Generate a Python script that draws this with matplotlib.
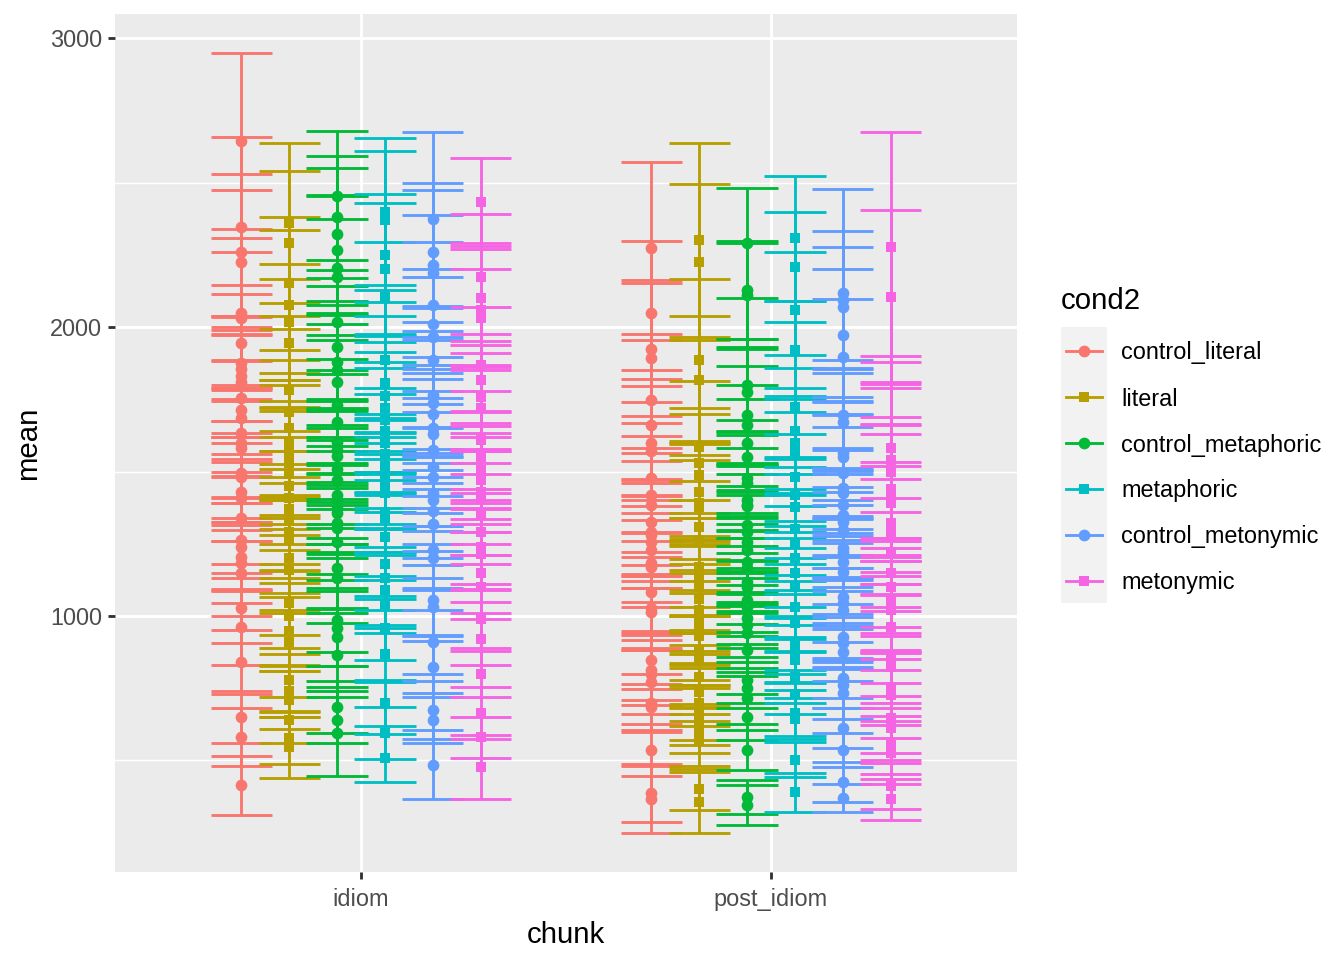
import matplotlib

matplotlib.use("Agg")
import matplotlib.pyplot as plt  # noqa: E402
import numpy as np  # noqa: E402
from matplotlib.lines import Line2D  # noqa: E402
from matplotlib.patches import Rectangle  # noqa: E402

plt.rcParams["font.family"] = ["Liberation Sans", "DejaVu Sans"]

CHUNKS = ["idiom", "post_idiom"]
CONDS = ["control_literal", "literal", "control_metaphoric",
         "metaphoric", "control_metonymic", "metonymic"]
COLORS = ["#F8766D", "#B79F00", "#00BA38", "#00BFC4", "#619CFF", "#F564E3"]
MARKERS = ["o", "s", "o", "s", "o", "s"]

# per-item means and error half-widths
idiom_control_literal = [2644, 2347, 2261, 2226, 2048, 2030, 1945, 1875, 1855, 1830, 1811,
                         1754, 1713, 1685, 1633, 1599, 1581, 1495, 1480, 1430, 1410, 1339,
                         1263, 1240, 1205, 1185, 1149, 1028, 962, 841, 651, 581, 415]
idiom_control_literal_err = [305, 310, 270, 250, 260, 230, 200, 240, 180, 210, 190,
                             220, 170, 200, 150, 190, 170, 180, 140, 170, 150, 160,
                             130, 150, 120, 140, 150, 120, 130, 110, 90, 100, 102]

idiom_literal = [2360, 2290, 2152, 2076, 2017, 1945, 1782, 1706, 1652, 1600, 1575,
                 1560, 1530, 1490, 1450, 1410, 1370, 1330, 1290, 1263, 1200, 1160,
                 1045, 1000, 947, 910, 780, 740, 710, 640, 578, 545]
idiom_literal_err = [278, 250, 230, 260, 200, 220, 210, 180, 190, 200, 170,
                     160, 180, 150, 170, 160, 140, 150, 130, 150, 120, 140,
                     110, 130, 120, 100, 110, 90, 100, 80, 90, 104]

idiom_control_metaphoric = [2455, 2381, 2322, 2266, 2204, 2173, 2017, 1931, 1879, 1851, 1810,
                            1730, 1670, 1602, 1574, 1555, 1510, 1470, 1420, 1400, 1373, 1355,
                            1322, 1305, 1256, 1166, 1131, 986, 958, 927, 865, 685, 640, 595]
idiom_control_metaphoric_err = [224, 210, 230, 190, 250, 200, 180, 210, 170, 190, 200,
                                160, 180, 150, 170, 160, 140, 150, 170, 130, 150, 140,
                                120, 160, 130, 140, 120, 110, 130, 100, 110, 90, 80, 147]

idiom_metaphoric = [2400, 2370, 2250, 2200, 2104, 1886, 1806, 1760, 1720, 1680, 1640,
                    1600, 1560, 1520, 1470, 1505, 1450, 1425, 1360, 1340, 1275, 1180,
                    1130, 1090, 1040, 958, 870, 700, 595, 510]
idiom_metaphoric_err = [255, 240, 210, 230, 190, 200, 170, 190, 160, 180, 150,
                        170, 140, 160, 150, 130, 150, 120, 140, 130, 150, 120,
                        110, 130, 100, 110, 100, 80, 90, 83]

idiom_control_metonymic = [2374, 2259, 2215, 2187, 2076, 2010, 1965, 1886, 1765, 1737, 1700,
                           1650, 1630, 1574, 1515, 1480, 1425, 1400, 1365, 1320, 1228, 1200,
                           1055, 1032, 910, 823, 675, 640, 485]
idiom_control_metonymic_err = [302, 240, 260, 200, 220, 190, 210, 180, 200, 160, 170,
                               190, 150, 160, 140, 170, 130, 150, 140, 120, 130, 110,
                               120, 100, 110, 90, 100, 80, 119]

idiom_metonymic = [2433, 2173, 2100, 2060, 2031, 1869, 1817, 1758, 1720, 1610, 1565,
                   1550, 1470, 1505, 1430, 1410, 1350, 1290, 1240, 1215, 1150, 1100,
                   990, 920, 800, 665, 580, 477]
idiom_metonymic_err = [153, 220, 190, 210, 170, 200, 160, 180, 150, 170, 140,
                       160, 150, 130, 140, 120, 140, 110, 130, 120, 100, 110,
                       100, 90, 80, 90, 70, 111]

post_control_literal = [2273, 2048, 1924, 1893, 1747, 1661, 1600, 1570, 1478, 1420, 1384,
                        1325, 1290, 1280, 1256, 1228, 1183, 1170, 1083, 1028, 1014, 848,
                        813, 800, 772, 700, 686, 536, 388, 365]
post_control_literal_err = [298, 250, 230, 270, 210, 190, 220, 170, 190, 160, 180,
                            150, 170, 140, 160, 130, 150, 120, 140, 110, 130, 100,
                            120, 90, 110, 100, 80, 90, 100, 116]

post_literal = [2301, 2225, 1886, 1817, 1585, 1530, 1488, 1430, 1377, 1391, 1308,
                1263, 1170, 1135, 1100, 1060, 1020, 980, 950, 930, 880, 850,
                790, 738, 700, 660, 625, 605, 570, 400, 355]
post_literal_err = [336, 270, 280, 220, 230, 190, 210, 170, 180, 150, 160,
                    140, 170, 130, 150, 120, 140, 110, 130, 100, 120, 90,
                    110, 100, 80, 90, 70, 80, 90, 70, 105]

post_control_metaphoric = [2291, 2128, 2111, 1800, 1775, 1696, 1661, 1600, 1550, 1478, 1460,
                           1384, 1400, 1380, 1315, 1290, 1256, 1228, 1187, 1166, 1118, 1100,
                           1055, 1032, 993, 970, 940, 882, 778, 750, 716, 651, 536, 374, 346]
post_control_metaphoric_err = [191, 170, 180, 160, 150, 170, 140, 150, 130, 160, 120,
                               140, 130, 110, 120, 140, 100, 120, 110, 130, 100, 90,
                               110, 100, 90, 80, 100, 90, 80, 70, 90, 80, 70, 60, 70]

post_metaphoric = [2308, 2208, 2059, 1921, 1723, 1640, 1600, 1565, 1480, 1420, 1377,
                   1300, 1250, 1200, 1150, 1100, 1032, 975, 904, 870, 848, 790,
                   730, 665, 645, 503, 390]
post_metaphoric_err = [216, 190, 200, 170, 180, 150, 160, 140, 150, 130, 140,
                       120, 130, 110, 120, 100, 110, 100, 90, 100, 80, 90,
                       70, 80, 70, 60, 67]

post_control_metonymic = [2118, 2094, 2069, 1972, 1896, 1695, 1671, 1564, 1550, 1495, 1443,
                          1426, 1384, 1350, 1325, 1298, 1235, 1221, 1187, 1152, 1066, 1045,
                          1021, 927, 907, 876, 786, 762, 734, 613, 536, 425, 370]
post_control_metonymic_err = [359, 240, 210, 230, 200, 190, 170, 180, 150, 160, 140,
                              150, 130, 140, 120, 130, 110, 120, 100, 110, 100, 90,
                              110, 80, 90, 100, 70, 80, 90, 70, 60, 70, 50]

post_metonymic = [2277, 2104, 1580, 1540, 1500, 1440, 1400, 1436, 1391, 1322, 1298,
                  1273, 1220, 1150, 1100, 1055, 1032, 1021, 962, 858, 823, 754,
                  727, 647, 613, 554, 527, 411, 365]
post_metonymic_err = [399, 300, 320, 270, 290, 250, 260, 230, 240, 210, 220,
                      200, 190, 210, 170, 180, 160, 170, 150, 160, 140, 130,
                      150, 120, 110, 100, 110, 80, 71]

DATA = {
    "idiom": [
        (idiom_control_literal, idiom_control_literal_err),
        (idiom_literal, idiom_literal_err),
        (idiom_control_metaphoric, idiom_control_metaphoric_err),
        (idiom_metaphoric, idiom_metaphoric_err),
        (idiom_control_metonymic, idiom_control_metonymic_err),
        (idiom_metonymic, idiom_metonymic_err),
    ],
    "post_idiom": [
        (post_control_literal, post_control_literal_err),
        (post_literal, post_literal_err),
        (post_control_metaphoric, post_control_metaphoric_err),
        (post_metaphoric, post_metaphoric_err),
        (post_control_metonymic, post_control_metonymic_err),
        (post_metonymic, post_metonymic_err),
    ],
}

DODGE = 0.7
BAR_W = 0.15
LW = 1.07
MS = {"o": 4.4, "s": 4.0}

fig = plt.figure(figsize=(7, 5), dpi=192)
ax = fig.add_axes([115 / 1344, 88 / 960, 902 / 1344, 858 / 960])
ax.set_facecolor("#EBEBEB")
for s in ax.spines.values():
    s.set_visible(False)

n = len(CONDS)
lo_all, hi_all = [], []
# error bars first, then points on top
for ci, chunk in enumerate(CHUNKS):
    for gi, (means, errs) in enumerate(DATA[chunk]):
        x = ci + (gi - (n - 1) / 2) * DODGE / n
        m = np.array(means, dtype=float)
        e = np.array(errs, dtype=float)
        lo, hi = m - e, m + e
        lo_all.append(lo.min())
        hi_all.append(hi.max())
        ax.vlines(np.full(len(m), x), lo, hi, color=COLORS[gi], lw=LW, zorder=3)
        ax.hlines(np.concatenate([lo, hi]), x - BAR_W / 2, x + BAR_W / 2,
                  color=COLORS[gi], lw=LW, zorder=3)
for ci, chunk in enumerate(CHUNKS):
    for gi, (means, errs) in enumerate(DATA[chunk]):
        x = ci + (gi - (n - 1) / 2) * DODGE / n
        ax.plot(np.full(len(means), x), means, linestyle="none",
                marker=MARKERS[gi], ms=MS[MARKERS[gi]], mew=0,
                color=COLORS[gi], zorder=4)

ymin, ymax = min(lo_all), max(hi_all)
pad = 0.05 * (ymax - ymin)
ax.set_ylim(ymin - pad, ymax + pad)
ax.set_xlim(-0.6, len(CHUNKS) - 1 + 0.6)

ax.set_xticks(range(len(CHUNKS)))
ax.set_xticklabels(CHUNKS)
ax.set_yticks([1000, 2000, 3000])
ax.set_yticks([500, 1500, 2500], minor=True)
ax.grid(which="major", color="white", lw=1.07, zorder=0)
ax.grid(which="minor", color="white", lw=0.53, zorder=0)
ax.set_axisbelow(True)
ax.tick_params(which="major", length=2.75, width=1.07, color="#333333",
               labelsize=8.8, labelcolor="#4D4D4D", pad=2.2)
ax.tick_params(axis="x", which="major", pad=3.3)
ax.tick_params(which="minor", length=0)
ax.set_xlabel("chunk", fontsize=11, labelpad=3.6)
ax.set_ylabel("mean", fontsize=11, labelpad=2.75)


# legend, drawn by hand in pixel coordinates
def fx(px):
    return px / 1344


def fy(py):
    return 1 - py / 960


fig.text(fx(1061), fy(301), "cond2", fontsize=11, ha="left", va="center")
fig.patches.append(Rectangle((fx(1061), fy(603)), fx(46), 276 / 960,
                             transform=fig.transFigure, facecolor="#F2F2F2",
                             edgecolor="none"))
for i, (cond, col, mk) in enumerate(zip(CONDS, COLORS, MARKERS)):
    yc = fy(351 + 46 * i)
    fig.add_artist(Line2D([fx(1066), fx(1102)], [yc, yc], color=col, lw=LW,
                          transform=fig.transFigure))
    fig.add_artist(Line2D([fx(1084)], [yc], marker=mk, ms=MS[mk], mew=0, color=col,
                          linestyle="none", transform=fig.transFigure))
    fig.text(fx(1121), fy(353 + 46 * i), cond, fontsize=8.8, ha="left", va="center")

fig.savefig("out.png", dpi=192)
